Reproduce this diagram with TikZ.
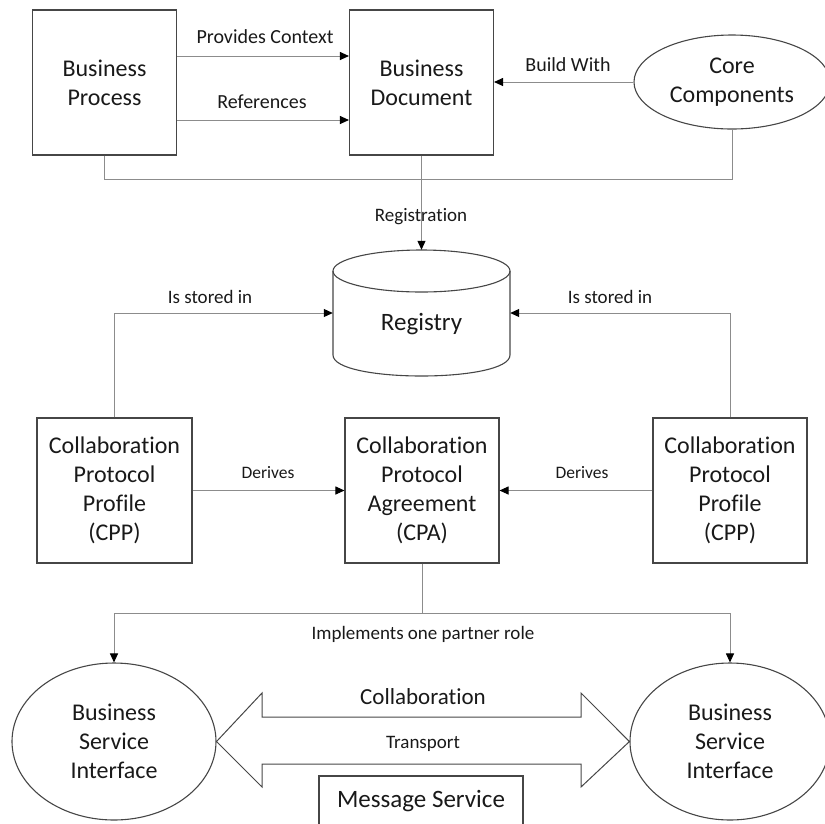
\documentclass[tikz,border=0pt]{standalone}
\usepackage{fontspec}
\setmainfont{Carlito}[Ligatures={NoCommon}]
\usetikzlibrary{shapes.geometric,arrows.meta}
\definecolor{linegray}{RGB}{140,140,140}
\definecolor{boxgray}{RGB}{70,70,70}
\definecolor{txt}{RGB}{25,25,25}
\begin{document}
\begin{tikzpicture}[x=1pt,y=-1pt,
  box/.style={draw=boxgray, line width=1.1pt, text=txt, align=center, inner sep=0pt, font=\fontsize{24pt}{29pt}\selectfont},
  rbox/.style={box, rectangle},
  ebox/.style={box, ellipse},
  conn/.style={draw=linegray, line width=1pt},
  arr/.style={conn, -{Triangle[length=9pt,width=8pt,color=black]}},
  lbl/.style={text=txt, inner sep=0pt, font=\fontsize{20pt}{24pt}\selectfont},
  mlbl/.style={text=txt, inner sep=0pt, font=\fontsize{19pt}{23pt}\selectfont},
  slbl/.style={text=txt, inner sep=0pt, font=\fontsize{17.5pt}{21pt}\selectfont},
  blbl/.style={text=txt, inner sep=0pt, font=\fontsize{23pt}{28pt}\selectfont},
]
\useasboundingbox (0,0) rectangle (825,823);
\clip (0,0) rectangle (825,823);

% top row
\node[rbox, minimum width=144pt, minimum height=145pt] (bp) at (104.5,82.5) {Business\\Process};
\node[rbox, minimum width=144pt, minimum height=145pt] (bd) at (421.5,82.5) {Business\\Document};
\node[ebox, minimum width=196pt, minimum height=94pt] (cc) at (732,82) {Core\\Components};

% registry cylinder
\draw[draw=boxgray, line width=1.1pt] (421.5,271) ellipse [x radius=88.5, y radius=21];
\draw[draw=boxgray, line width=1.1pt] (333,271) -- (333,355) .. controls (333,383) and (510,383) .. (510,355) -- (510,271);
\node[minimum width=177pt, minimum height=126pt, inner sep=0pt] (reg) at (421.5,313) {};
\node[text=txt, inner sep=0pt, font=\fontsize{25pt}{30pt}\selectfont] (regtxt) at (421.5,324) {Registry};

% middle row
\node[rbox, minimum width=155pt, minimum height=145pt] (cppl) at (114.5,490.5) {Collaboration\\Protocol\\Profile\\(CPP)};
\node[rbox, minimum width=154pt, minimum height=145pt] (cpa) at (422,490.5) {Collaboration\\Protocol\\Agreement\\(CPA)};
\node[rbox, minimum width=154pt, minimum height=145pt] (cppr) at (730,490.5) {Collaboration\\Protocol\\Profile\\(CPP)};

% bottom row
\node[ebox, minimum width=204pt, minimum height=157pt] (bsil) at (114,741.5) {Business\\Service\\Interface};
\node[ebox, minimum width=200pt, minimum height=157pt] (bsir) at (730,741.5) {Business\\Service\\Interface};
\draw[draw=boxgray, line width=1pt] (bsil.east) -- (262,693) -- (262,717) -- (581,717) -- (581,693) -- (bsir.west) -- (581,787) -- (581,764) -- (262,764) -- (262,787) -- cycle;
\node[rbox, minimum width=204pt, minimum height=50pt, font=\fontsize{25pt}{30pt}\selectfont] (ms) at (421,801) {Message Service};

% connectors
\coordinate (ypc) at (0,56);
\coordinate (yref) at (0,120);
\coordinate (bar) at (0,179);
\coordinate (split) at (422,613);
\draw[arr] (bp.east |- ypc) -- (bd.west |- ypc);
\draw[arr] (bp.east |- yref) -- (bd.west |- yref);
\draw[arr] (cc.west) -- (bd.east |- cc.west);
\draw[conn] (bp.south) |- (bar -| cc.south) -- (cc.south);
\draw[arr] (bd.south) -- (reg.north);
\draw[arr] (cppl.north) |- (reg.west);
\draw[arr] (cppr.north) |- (reg.east);
\draw[arr] (cppl.east) -- (cpa.west);
\draw[arr] (cppr.west) -- (cpa.east);
\draw[conn] (cpa.south) -- (split);
\draw[arr] (split) -| (bsil.north);
\draw[arr] (split) -| (bsir.north);

% labels
\node[lbl] (lpc) at (265,37) {Provides Context};
\node[lbl] (lref) at (262,102) {References};
\node[lbl] (lbw) at (568,65) {Build With};
\node[mlbl] (lreg) at (421,217) {Registration};
\node[mlbl] (lis1) at (210,297) {Is stored in};
\node[mlbl] (lis2) at (610,297) {Is stored in};
\node[slbl] (ld1) at (268,473) {Derives};
\node[slbl] (ld2) at (582,473) {Derives};
\node[mlbl] (limp) at (423,634) {Implements one partner role};
\node[blbl] (lcol) at (423,697) {Collaboration};
\node[mlbl] (ltr) at (423,744) {Transport};
\end{tikzpicture}
\end{document}
